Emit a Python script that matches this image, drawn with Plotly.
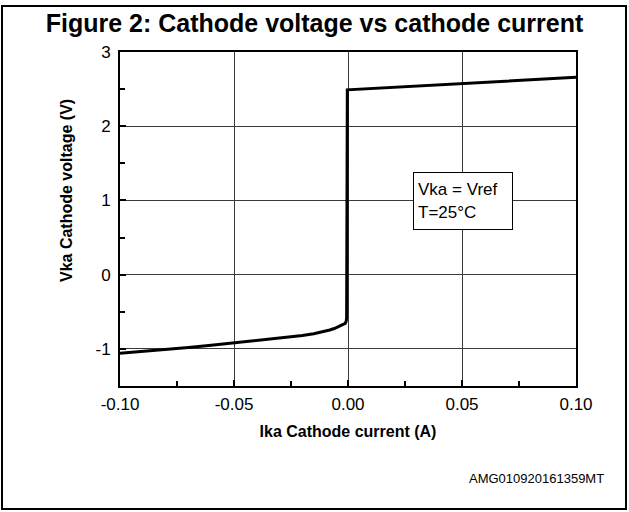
import plotly.graph_objects as go

# Data
current_a = [-0.1, -0.09, -0.08, -0.07, -0.06, -0.05, -0.04, -0.03, -0.025, -0.02,
             -0.015, -0.0125, -0.01, -0.008, -0.006, -0.004, -0.003, -0.002,
             -0.0012, -0.0008, -0.0006, -0.0003, 0.1]
voltage_v = [-1.06, -1.035, -1.01, -0.98, -0.95, -0.92, -0.89, -0.86, -0.84, -0.82,
             -0.795, -0.78, -0.76, -0.745, -0.725, -0.70, -0.685, -0.67,
             -0.655, -0.63, -0.58, 2.49, 2.66]

x_tickvals = [-0.10, -0.05, 0.00, 0.05, 0.10]
x_ticktext = ["-0.10", "-0.05", "0.00", "0.05", "0.10"]
y_tickvals = [-1, 0, 1, 2, 3]
y_ticktext = ["-1", "0", "1", "2", "3"]

FONT = "Liberation Sans, Arial, sans-serif"

fig = go.Figure()
fig.add_trace(go.Scatter(x=current_a, y=voltage_v, mode="lines",
                         line=dict(color="black", width=3), showlegend=False,
                         hoverinfo="skip"))

axis_common = dict(showline=True, linecolor="black", linewidth=2, mirror=True,
                   showgrid=True, gridcolor="#3a3a3a", gridwidth=1,
                   ticks="inside", ticklen=6, tickwidth=2, tickcolor="black",
                   zeroline=False, tickfont=dict(family=FONT, size=17, color="black"))

fig.update_xaxes(range=[-0.1, 0.1], tickvals=x_tickvals, ticktext=x_ticktext,
                 minor=dict(ticks="inside", ticklen=5, tickwidth=2, tickcolor="black",
                            dtick=0.025, tick0=0, showgrid=False),
                 title=dict(text="<b>Ika Cathode current (A)</b>",
                            font=dict(family=FONT, size=16, color="black"), standoff=12),
                 ticklabelstandoff=2,
                 **axis_common)
fig.update_yaxes(range=[-1.5, 3], tickvals=y_tickvals, ticktext=y_ticktext,
                 minor=dict(ticks="inside", ticklen=5, tickwidth=2, tickcolor="black",
                            dtick=0.5, tick0=0, showgrid=False),
                 ticklabelstandoff=4,
                 **axis_common)

fig.update_layout(
    width=629, height=512,
    margin=dict(l=120, r=53, t=52, b=126),
    paper_bgcolor="white", plot_bgcolor="white",
    title=dict(text="<b>Figure 2: Cathode voltage vs cathode current</b>",
               font=dict(family=FONT, size=25, color="black"),
               x=0.5, xanchor="center", y=1 - 23 / 512, yanchor="middle"),
    font=dict(family=FONT, color="black"),
)

# Y axis title (placed above the plot-area centre, as in the reference)
fig.add_annotation(x=(66 - 120) / 456, y=(386 - 191) / 334, xref="paper", yref="paper",
                   xanchor="center", yanchor="middle", textangle=-90, showarrow=False,
                   text="<b>Vka Cathode voltage (V)</b>",
                   font=dict(family=FONT, size=16, color="black"))

# Condition box
fig.add_annotation(x=0.0285, y=1.383, xref="x", yref="y", xanchor="left", yanchor="top",
                   text="Vka = Vref<br>T=25°C", showarrow=False, align="left",
                   font=dict(family=FONT, size=17, color="black"),
                   bordercolor="black", borderwidth=1, borderpad=4, bgcolor="white",
                   width=90, height=48)

# Footer code
fig.add_annotation(x=(606 - 120) / 456, y=(386 - 478) / 334, xref="paper", yref="paper",
                   xanchor="right", yanchor="middle", text="AMG010920161359MT",
                   showarrow=False, font=dict(family=FONT, size=13, color="black"))

# Outer frame
fig.add_shape(type="rect", xref="paper", yref="paper",
              x0=(2 - 120) / 456, x1=(626 - 120) / 456,
              y0=(386 - 509) / 334, y1=1 + (52 - 6) / 334,
              line=dict(color="black", width=2), fillcolor="rgba(0,0,0,0)", layer="above")

fig.write_html("out.html", config={"displayModeBar": False},
               post_script="document.body.style.margin='0';document.body.style.padding='0';document.body.style.overflow='hidden';")
